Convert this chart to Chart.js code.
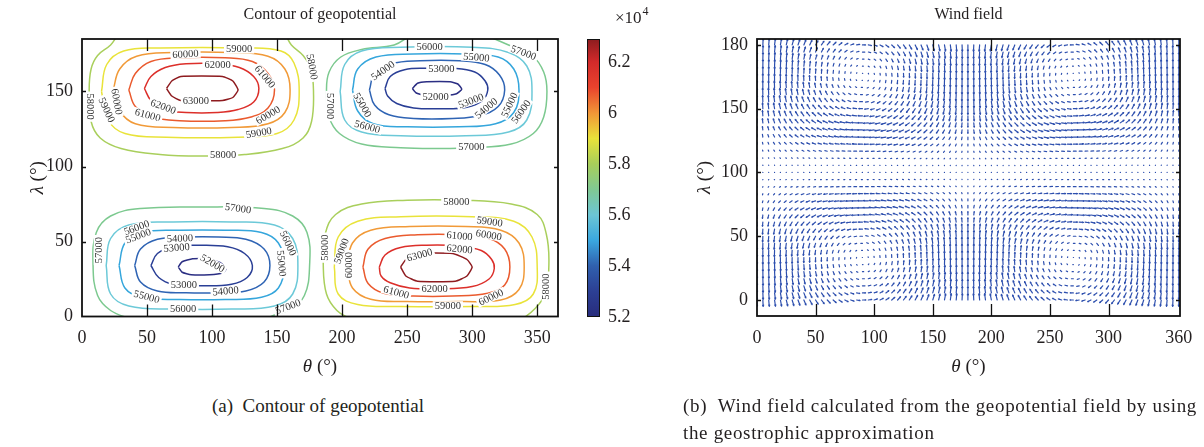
<!DOCTYPE html>
<html>
<head>
<meta charset="utf-8">
<script src="https://cdn.jsdelivr.net/npm/chart.js@4/dist/chart.umd.min.js"></script>
<style>
  body { margin: 0; background: #fff; width: 1204px; height: 447px; overflow: hidden; position: relative; }
  canvas { position: absolute; top: 0; }
  .cap { position: absolute; font-family: "Liberation Serif", serif; font-size: 19px; color: #231f20; line-height: 27px; white-space: nowrap; }
</style>
</head>
<body>
<canvas id="contour" width="575" height="385" style="left:0"></canvas>
<canvas id="cbar" width="90" height="385" style="left:570px"></canvas>
<canvas id="wind" width="554" height="385" style="left:650px"></canvas>
<div class="cap" style="left:0;width:636px;top:392px;text-align:center">(a)&nbsp; Contour of geopotential</div>
<div class="cap" id="capb1" style="left:683px;top:392px">(b)&nbsp; Wind field calculated from the geopotential field by using</div>
<div class="cap" id="capb2" style="left:683px;top:419px">the geostrophic approximation</div>
<script>
const FONT = '"Liberation Serif", serif';
const INK = '#231f20';

// ---------- panel (a): contour of geopotential ----------
const thetaTicksA = [0, 50, 100, 150, 200, 250, 300, 350];
const lambdaTicksA = [0, 50, 100, 150];
const levels = [52000, 53000, 54000, 55000, 56000, 57000, 58000, 59000, 60000, 61000, 62000, 63000];
const levelColors = ['#2b2e83', '#2a3f96', '#2f64b4', '#35a6dc', '#6cc9d8', '#7cc98f',
                     '#a9cf5c', '#e9e33a', '#f19a38', '#ea5a2e', '#dc2f2a', '#8e1b1f'];

// contour lines, [theta, lambda] points
// top left: high
const tl63 = [[65,152],[69,157],[76,160],[108,160],[116,157],[120,151],[116,146],[108,144],[76,144],[69,147],[65,152]];
const tl62 = [[48,152],[53,160],[64,166],[80,168.5],[105,168.5],[121,166],[132,160],[136,152],[132,143],[120,138],[104,136],[80,136],[63,138],[53,144],[48,152]];
const tl61 = [[36,151],[41,162],[53,170],[75,172.5],[110,172.5],[131,170],[143,162],[148,151],[143,139],[130,133],[110,130.5],[75,130.5],[54,133],[41,140],[36,151]];
const tl60 = [[24,151],[29,165],[42,173.5],[70,176],[115,176],[143,173.5],[156,165],[160,151],[156,136],[143,128.5],[115,126],[70,126],[41,128.5],[29,137],[24,151]];
const tl59 = [[15,150],[19,168],[32,177],[60,179],[125,179],[153,177],[163,169],[167,150],[163,131],[150,122],[120,119.5],[65,119.5],[33,122],[20,131],[15,150]];
const tl58 = [[27,187],[22,181],[12,174],[7,165],[5.5,150],[7,130],[14,119],[30,112],[60,108],[92,107],[125,108],[154,112],[170,119],[176.5,130],[178,150],[176,165],[170,174],[161,181],[157,187]];
// top right: low
const tr52 = [[254,152],[258,155.5],[265,156.5],[283,156.5],[289,155],[292,151.5],[288,148.5],[280,147.5],[263,147.5],[257,149],[254,152]];
const tr53 = [[233,152],[237,160],[248,164.5],[265,165.5],[285,165.5],[302,163],[310,157],[312,151],[308,144],[296,139.5],[275,138.5],[255,139],[242,142],[235,147],[233,152]];
const tr54 = [[221,151],[225,162],[238,168.5],[260,170.5],[290,170.5],[310,168],[321,161],[325,151],[320,140],[306,134],[285,132],[255,132],[236,134.5],[225,141],[221,151]];
const tr55 = [[208,151],[212,165],[226,173],[255,175],[295,175],[320,173],[332,165],[336,151],[332,136],[318,128.5],[290,126.5],[250,126.5],[224,128.5],[212,137],[208,151]];
const tr56 = [[198.5,150],[202,168],[215,177],[245,179.5],[300,179.5],[328,176],[342,167],[346,150],[342,131],[328,123],[295,120.5],[245,120.5],[215,123],[202,131],[198.5,150]];
const tr57 = [[252,187],[240,181],[215,178],[199,173],[190,163],[188,150],[190,133],[198,122],[215,115],[245,112.5],[272,112],[300,112.5],[330,115],[347,122],[355,133],[357.5,150],[355,163],[346,174],[328,181],[312,187]];
// bottom left: low
const bl52 = [[74,33],[77,36.5],[85,38.5],[97,38.5],[106,36],[111,32],[108,29],[98,27.8],[84,27.8],[77,29.5],[74,33]];
const bl53 = [[53,34],[58,42],[70,46.5],[90,47.5],[112,46.5],[125,42],[131,34],[127,26],[115,21.5],[92,20.5],[70,21.5],[59,26],[53,34]];
const bl54 = [[40.5,34],[45,45],[58,51.5],[80,53],[105,53],[126,51.5],[140,45],[144.5,34],[140,23],[126,17],[105,15.8],[80,15.8],[58,17],[45,23],[40.5,34]];
const bl55 = [[28.5,34],[33,49],[46,56],[75,57.5],[110,57.5],[138,56],[151,49],[155.5,34],[151,19],[138,12.8],[110,11.3],[75,11.3],[46,12.8],[33,19],[28.5,34]];
const bl56 = [[18.6,34],[22,52],[36,61],[70,63],[115,63],[148,61],[162,52],[166,34],[162,15],[148,7],[115,5],[70,5],[36,7],[22,15],[18.6,34]];
const bl57 = [[38,-2],[22,4],[12,14],[8.5,34],[11,56],[22,67],[45,72],[92,73],[140,72],[162,67],[173,56],[175,34],[171,14],[160,5],[148,1],[140,-2]];
// bottom right: high
const br63 = [[245,33],[249,38],[258,42],[285,42],[296,38],[300,33],[296,27],[287,23.5],[258,23.5],[249,27],[245,33]];
const br62 = [[228.6,33],[233,41],[245,46],[265,47.5],[290,47],[307,44],[315,38],[317,32],[313,25],[300,20],[275,18.4],[252,19],[237,22.5],[230,27],[228.6,33]];
const br61 = [[216,33],[220,45],[233,52],[258,54.5],[290,54.5],[313,52],[325,45],[329,33],[325,21],[312,15.5],[285,13.6],[255,13.6],[232,15.5],[220,22],[216,33]];
const br60 = [[204,33],[208,49],[222,57.5],[252,60],[295,60],[322,57.5],[336,49],[340,33],[336,18],[322,11],[292,10],[250,10],[222,11.5],[208,19],[204,33]];
const br59 = [[194,33],[197,53],[212,63.5],[245,66.5],[300,66.5],[332,63.5],[346,53],[350,33],[347,15],[333,8],[300,6.7],[245,6.7],[212,8],[197,15],[194,33]];
const br58 = [[207,-2],[196,4],[188,15],[185.5,35],[187,55],[195,68],[215,75],[250,77.5],[292,77.5],[330,75],[350,68],[357,55],[359,35],[356,15],[348,5],[338,-2]];

const contourLines = [
  [63000, tl63], [62000, tl62], [61000, tl61], [60000, tl60], [59000, tl59], [58000, tl58],
  [52000, tr52], [53000, tr53], [54000, tr54], [55000, tr55], [56000, tr56], [57000, tr57],
  [52000, bl52], [53000, bl53], [54000, bl54], [55000, bl55], [56000, bl56], [57000, bl57],
  [63000, br63], [62000, br62], [61000, br61], [60000, br60], [59000, br59], [58000, br58]
];

// inline labels: [text, theta, lambda, rotation in degrees]
const contourLabels = [
  ['60000', 79.6, 175, -3], ['59000', 120.8, 178.3, 0], ['62000', 104.2, 167.7, 0],
  ['61000', 140.6, 159.9, 50], ['58000', 176.9, 166.5, 80], ['63000', 87.6, 143.9, 0],
  ['62000', 62.4, 139.9, 20], ['61000', 50.5, 134.3, 15], ['60000', 26.7, 143.2, 80],
  ['59000', 19, 137.7, 65], ['58000', 6.1, 139.9, 90], ['60000', 143.1, 134.3, -30],
  ['59000', 135.9, 122.5, -10], ['58000', 108.5, 107.7, 0],
  ['56000', 267.3, 179.9, 0], ['57000', 339.5, 175.9, 20], ['55000', 303.2, 172.8, 5],
  ['54000', 231.4, 163.9, -35], ['53000', 276.3, 165.5, 0], ['52000', 271.9, 146.5, 0],
  ['57000', 190.5, 140.3, 90], ['55000', 215.6, 141, 60], ['56000', 219.4, 126.5, 15],
  ['53000', 299, 143.7, -20], ['54000', 310.8, 138.8, -40], ['55000', 328.7, 141, -65],
  ['56000', 337.7, 136.5, -55], ['57000', 299.3, 113.2, 0],
  ['57000', 120, 72.1, 8], ['56000', 42, 59.2, -20], ['55000', 43.2, 53.7, -20],
  ['54000', 75.3, 52.1, -3], ['53000', 72.7, 45.9, -5], ['52000', 100.4, 35.5, 30],
  ['57000', 12.5, 44.3, -90], ['56000', 158.4, 48.8, 65], ['55000', 153.4, 35.5, 85],
  ['53000', 78.3, 21, 0], ['54000', 110.4, 17, -5], ['55000', 49.7, 13.2, 15],
  ['56000', 77.8, 5.5, 0], ['57000', 158.4, 6.5, -20],
  ['58000', 287.8, 76.5, 0], ['59000', 313.4, 63.2, 8], ['60000', 312.8, 54.3, 10],
  ['61000', 290.3, 53.7, 5], ['62000', 290.3, 45, 5], ['63000', 259.6, 41, -15],
  ['58000', 186.6, 45.9, -90], ['59000', 199.5, 43.7, -70], ['60000', 205.3, 34.3, -90],
  ['62000', 271.1, 18.8, 0], ['61000', 241.7, 16.1, 15], ['60000', 314.5, 12.8, -25],
  ['59000', 281.3, 7.2, 0], ['58000', 356.9, 19.9, -90]
];

// colour bar
const cbMin = 52000, cbMax = 62900;
const cbTicks = [52000, 54000, 56000, 58000, 60000, 62000];
const cbStops = [
  [52000, '#282c7c'], [53000, '#2c3f94'], [54000, '#3060ae'], [55000, '#3aa7df'],
  [56000, '#6cc6d5'], [57000, '#80c893'], [58000, '#a8ce5a'], [59000, '#e8e23a'],
  [60000, '#f19637'], [61000, '#e9432d'], [62000, '#d32a2a'], [62900, '#8c1c1f']
];

// ---------- panel (b): wind field ----------
const thetaTicksB = [0, 50, 100, 150, 200, 250, 300, 360];
// the tick marks of the original sit at these lambda positions, with these labels
const lambdaTicksB = [0, 45, 90, 135, 180];
const lambdaTickLabelsB = ['0', '50', '100', '150', '180'];
const windTheta = [0,5,10,15,20,25,30,35,40,45,50,55,60,65,70,75,80,85,90,95,100,105,110,115,120,125,130,135,140,145,150,155,160,165,170,175,180,
  185,190,195,200,205,210,215,220,225,230,235,240,245,250,255,260,265,270,275,280,285,290,295,300,305,310,315,320,325,330,335,340,345,350,355,360];
const windLambda = [0,5,10,15,20,25,30,35,40,45,50,55,60,65,70,75,80,85,90,95,100,105,110,115,120,125,130,135,140,145,150,155,160,165,170,175,180];
// how much of the arrow is east-west / north-south along each column
const colU = [0,.09,.17,.26,.34,.42,.5,.57,.64,.71,.77,.82,.87,.91,.94,.97,.98,1,1,
  1,.98,.97,.94,.91,.87,.82,.77,.71,.64,.57,.5,.42,.34,.26,.17,.09,0,
  -.09,-.17,-.26,-.34,-.42,-.5,-.57,-.64,-.71,-.77,-.82,-.87,-.91,-.94,-.97,-.98,-1,-1,
  -1,-.98,-.97,-.94,-.91,-.87,-.82,-.77,-.71,-.64,-.57,-.5,-.42,-.34,-.26,-.17,-.09,0];
const colV = [1,1,.98,.97,.94,.91,.87,.82,.77,.71,.64,.57,.5,.42,.34,.26,.17,.09,0,
  -.09,-.17,-.26,-.34,-.42,-.5,-.57,-.64,-.71,-.77,-.82,-.87,-.91,-.94,-.97,-.98,-1,-1,
  -1,-.98,-.97,-.94,-.91,-.87,-.82,-.77,-.71,-.64,-.57,-.5,-.42,-.34,-.26,-.17,-.09,0,
  .09,.17,.26,.34,.42,.5,.57,.64,.71,.77,.82,.87,.91,.94,.97,.98,1,1];
// strength along each row
const rowU = [.6,.55,.45,.35,.22,.1,-.03,-.15,-.3,-.45,-.6,-.75,-.88,-.93,-.88,-.72,-.48,-.2,-.04,
  -.04,-.22,-.5,-.75,-.9,-.93,-.88,-.78,-.65,-.5,-.35,-.2,-.07,.05,.15,.28,.42,.55];
const rowV = [-.95,-.96,-.98,-1,-1,-1,-1,-.97,-.92,-.85,-.75,-.62,-.5,-.38,-.27,-.17,-.08,-.03,0,
  .03,.08,.17,.27,.38,.5,.62,.75,.85,.92,.97,1,1,1,1,.98,.96,.95];
const arrowScale = 4.8;
const windColor = '#2d4fae';

// ---------- helpers ----------
function fixTicks(list) {
  return s => { s.ticks = list.map(v => ({ value: v })); };
}

function axisTitle(ctx, greek, x, y, rot) {
  ctx.save();
  ctx.translate(x, y);
  ctx.rotate(rot);
  ctx.fillStyle = INK;
  ctx.textBaseline = 'middle';
  ctx.textAlign = 'left';
  const rest = ' (°)';
  ctx.font = `italic 19px ${FONT}`;
  const w1 = ctx.measureText(greek).width;
  ctx.font = `19px ${FONT}`;
  const w2 = ctx.measureText(rest).width;
  const x0 = -(w1 + w2) / 2;
  ctx.font = `italic 19px ${FONT}`;
  ctx.fillText(greek, x0, 0);
  ctx.font = `19px ${FONT}`;
  ctx.fillText(rest, x0 + w1, 0);
  ctx.restore();
}

function framePlugin(title, yTitleX) {
  return {
    id: 'frame',
    afterDraw(chart) {
      const { ctx, chartArea: a, scales: { x, y } } = chart;
      ctx.save();
      ctx.strokeStyle = '#111';
      ctx.lineWidth = 1.3;
      ctx.beginPath();
      x.ticks.forEach(t => {
        const px = Math.round(x.getPixelForValue(t.value)) + 0.5;
        if (px <= a.left + 1 || px >= a.right - 1) return;
        ctx.moveTo(px, a.bottom); ctx.lineTo(px, a.bottom - 12);
        ctx.moveTo(px, a.top); ctx.lineTo(px, a.top + 12);
      });
      y.ticks.forEach(t => {
        const py = Math.round(y.getPixelForValue(t.value)) + 0.5;
        if (py <= a.top + 1 || py >= a.bottom - 1) return;
        ctx.moveTo(a.left, py); ctx.lineTo(a.left + 4, py);
        ctx.moveTo(a.right, py); ctx.lineTo(a.right - 4, py);
      });
      ctx.stroke();
      ctx.lineWidth = 1.8;
      ctx.strokeRect(a.left, a.top, a.right - a.left, a.bottom - a.top);

      ctx.fillStyle = INK;
      ctx.font = `16px ${FONT}`;
      ctx.textAlign = 'center';
      ctx.textBaseline = 'middle';
      ctx.fillText(title, (a.left + a.right) / 2, 15);
      axisTitle(ctx, 'θ', (a.left + a.right) / 2, 367, 0);
      axisTitle(ctx, 'λ', yTitleX, (a.top + a.bottom) / 2, -Math.PI / 2);
      ctx.restore();
    }
  };
}

function axes(xmin, xmax, xt, ymin, ymax, yt, ylabels) {
  const tickFont = { family: FONT, size: 18 };
  return {
    x: {
      type: 'linear', min: xmin, max: xmax, afterBuildTicks: fixTicks(xt),
      afterFit: s => { s.height = 30; },
      grid: { display: false, drawTicks: false }, border: { display: false },
      ticks: { font: tickFont, color: INK, padding: 11, maxRotation: 0, autoSkip: false }
    },
    y: {
      type: 'linear', min: ymin, max: ymax, afterBuildTicks: fixTicks(yt),
      afterFit: s => { s.width = 50; },
      grid: { display: false, drawTicks: false }, border: { display: false },
      ticks: {
        font: tickFont, color: INK, padding: 9, autoSkip: false,
        callback: (v, i) => ylabels ? ylabels[i] : String(v)
      }
    }
  };
}

const common = {
  responsive: false, animation: false, devicePixelRatio: 1, events: [],
  plugins: { legend: { display: false }, tooltip: { enabled: false } }
};

// ---------- contour chart ----------
const labelPlugin = {
  id: 'clabels',
  afterDatasetsDraw(chart) {
    const { ctx, scales: { x, y } } = chart;
    ctx.save();
    ctx.font = `10.5px ${FONT}`;
    ctx.textAlign = 'center';
    ctx.textBaseline = 'middle';
    contourLabels.forEach(([txt, th, lam, rot]) => {
      const px = x.getPixelForValue(th), py = y.getPixelForValue(lam);
      const w = ctx.measureText(txt).width;
      ctx.save();
      ctx.translate(px, py);
      ctx.rotate(rot * Math.PI / 180);
      ctx.fillStyle = '#fff';
      ctx.fillRect(-w / 2 - 2, -4.5, w + 4, 9);
      ctx.fillStyle = '#333';
      ctx.fillText(txt, 0, 0.5);
      ctx.restore();
    });
    ctx.restore();
  }
};

new Chart(document.getElementById('contour'), {
  type: 'scatter',
  data: {
    datasets: contourLines.map(([lev, pts]) => ({
      data: pts.map(p => ({ x: p[0], y: p[1] })),
      showLine: true,
      borderColor: levelColors[levels.indexOf(lev)],
      borderWidth: 1.5,
      pointRadius: 0,
      tension: (lev === 63000 || lev === 52000) ? 0.15 : 0.4,
      fill: false
    }))
  },
  options: {
    ...common,
    layout: { padding: { left: 32, top: 39, right: 17, bottom: 38.5 } },
    scales: axes(0, 366, thetaTicksA, 0, 185, lambdaTicksA)
  },
  plugins: [labelPlugin, framePlugin('Contour of geopotential', 38)]
});

// ---------- colour bar ----------
new Chart(document.getElementById('cbar'), {
  type: 'bar',
  data: {
    labels: [''],
    datasets: [{
      data: [[cbMin, cbMax]],
      barPercentage: 1, categoryPercentage: 1, borderWidth: 0,
      backgroundColor: c => {
        const { chart } = c;
        const ys = chart.scales.y;
        if (!chart.chartArea || !ys) return '#888';
        const g = chart.ctx.createLinearGradient(0, ys.getPixelForValue(cbMin), 0, ys.getPixelForValue(cbMax));
        cbStops.forEach(([v, col]) => g.addColorStop((v - cbMin) / (cbMax - cbMin), col));
        return g;
      }
    }]
  },
  options: {
    ...common,
    layout: { padding: { left: 17, top: 39, right: 0, bottom: 385 - 317 } },
    scales: {
      x: { display: false },
      y: {
        position: 'right', min: cbMin, max: cbMax, afterBuildTicks: fixTicks(cbTicks),
        afterFit: s => { s.width = 60; },
        grid: { display: false, drawTicks: false }, border: { display: false },
        ticks: { font: { family: FONT, size: 18 }, color: INK, padding: 8, callback: v => String(v / 10000) }
      }
    }
  },
  plugins: [{
    id: 'cbframe',
    afterDraw(chart) {
      const { ctx, chartArea: a } = chart;
      ctx.save();
      ctx.strokeStyle = '#111';
      ctx.lineWidth = 1;
      ctx.strokeRect(a.left + 0.5, a.top + 0.5, a.right - a.left - 1, a.bottom - a.top - 1);
      ctx.fillStyle = INK;
      ctx.textBaseline = 'middle';
      ctx.font = `17px ${FONT}`;
      ctx.fillText('×10', a.right + 15, 19);
      const w = ctx.measureText('×10').width;
      ctx.font = `12px ${FONT}`;
      ctx.fillText('4', a.right + 15 + w + 1, 12);
      ctx.restore();
    }
  }]
});

// ---------- wind field ----------
const quiverPlugin = {
  id: 'quiver',
  afterDatasetsDraw(chart) {
    const { ctx, chartArea: a, scales: { x, y } } = chart;
    ctx.save();
    ctx.beginPath();
    ctx.rect(a.left, a.top, a.right - a.left, a.bottom - a.top);
    ctx.clip();
    ctx.strokeStyle = windColor;
    ctx.lineWidth = 1.2;
    ctx.lineCap = 'round';
    ctx.beginPath();
    windLambda.forEach((lam, i) => {
      windTheta.forEach((th, j) => {
        const u = colU[j] * rowU[i] * arrowScale;
        const v = colV[j] * rowV[i] * arrowScale;
        const x0 = x.getPixelForValue(th), y0 = y.getPixelForValue(lam);
        const x1 = x.getPixelForValue(th + u), y1 = y.getPixelForValue(lam + v);
        ctx.moveTo(x0, y0);
        ctx.lineTo(x1, y1);
        const dx = x1 - x0, dy = y1 - y0, len = Math.hypot(dx, dy);
        if (len > 3) {
          const ang = Math.atan2(dy, dx), hl = len * 0.22;
          ctx.moveTo(x1, y1);
          ctx.lineTo(x1 - hl * Math.cos(ang - 0.4), y1 - hl * Math.sin(ang - 0.4));
          ctx.moveTo(x1, y1);
          ctx.lineTo(x1 - hl * Math.cos(ang + 0.4), y1 - hl * Math.sin(ang + 0.4));
        }
      });
    });
    ctx.stroke();
    ctx.restore();
  }
};

new Chart(document.getElementById('wind'), {
  type: 'scatter',
  data: { datasets: [] },
  options: {
    ...common,
    layout: { padding: { left: 57, top: 39, right: 24, bottom: 385 - 316 - 30 } },
    scales: axes(0, 361, thetaTicksB, -11.3, 184.2, lambdaTicksB, lambdaTickLabelsB)
  },
  plugins: [quiverPlugin, framePlugin('Wind field', 55)]
});

// caption (b) is set justified in the original: stretch its letters to the same line width
const b1 = document.getElementById('capb1'), b2 = document.getElementById('capb2');
const natural = b1.getBoundingClientRect().width;
const spacing = (514 - natural) / b1.textContent.length;
b1.style.letterSpacing = spacing + 'px';
b2.style.letterSpacing = spacing + 'px';
</script>
</body>
</html>
